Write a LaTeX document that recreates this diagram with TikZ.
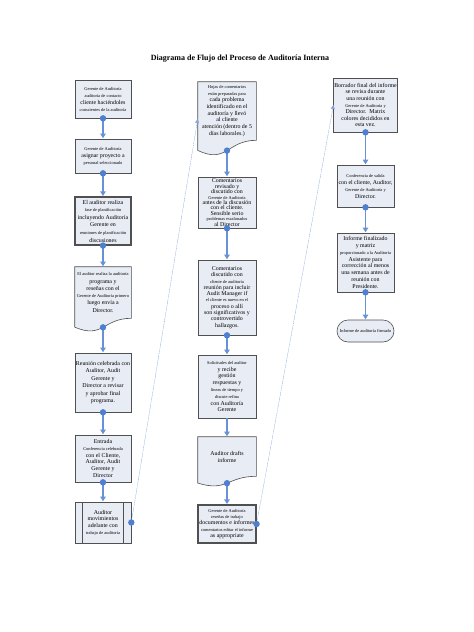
\documentclass[tikz,border=0pt]{standalone}
\usepackage{fontspec}
\setmainfont{Liberation Serif}
\usetikzlibrary{arrows.meta,calc,backgrounds}
\definecolor{boxfill}{HTML}{E8ECF4}
\definecolor{boxgray}{HTML}{505050}
\definecolor{linkblue}{HTML}{4F7FCF}
\newcommand{\sm}[1]{{\fontsize{4.4}{4.8}\selectfont #1}}
% document shape: wavy bottom below the node, #2 = depth of the wave
\newcommand{\docshape}[2]{%
  \begin{pgfonlayer}{background}
    \draw[boxline] (#1.north west) -- (#1.north east) -- (#1.south east)
      .. controls (#1.south) and ($(#1.south)+(0,#2)$) .. ($(#1.south west)+(0,0.42*#2)$) -- cycle;
  \end{pgfonlayer}
  \coordinate (#1-tail) at ($(#1.south)+(0,0.43*#2)$);
}
\begin{document}
\begin{tikzpicture}[x=1pt,y=-1pt,
    boxline/.style={draw=boxgray, fill=boxfill, line width=0.6pt},
    lines/.style={font=\fontsize{5.9}{#1}\selectfont},
    box/.style={boxline, inner sep=0.5pt, align=center, lines=6.7},
    colA/.style={box, minimum width=56pt},
    colB/.style={box, minimum width=58pt},
    colC/.style={box, minimum width=57pt},
    docbox/.style={draw=none, fill=none},
    link/.style={linkblue!85, line width=1.3pt, -{Triangle[width=5.5pt,length=4.5pt]}, shorten >=0.5pt},
    farlink/.style={linkblue!70, line width=0.35pt, dash pattern=on 1.2pt off 0.6pt, -{Triangle[width=4pt,length=4pt]}}]
  \useasboundingbox (0,0) rectangle (474,632);
  \node[font=\bfseries\fontsize{8}{9}\selectfont] (titulo) at (240,59) {Diagrama de Flujo del Proceso de Auditoría Interna};

  % first column
  \node[colA, minimum height=38pt, lines=7] (contacto) at (103,99)
    {\sm{Gerente de Auditoría}\\ \sm{auditoría de contacto}\\ cliente haciéndoles\\ \sm{conscientes de la auditoría}};
  \node[colA, minimum height=34pt, lines=7] (asignar) at (103,156)
    {\sm{Gerente de Auditoría}\\ asignar proyecto a\\ \sm{personal seleccionado}};
  \node[colA, minimum height=48pt, lines=7.6, line width=1.1pt] (planif) at (103,221)
    {El auditor realiza\\ \sm{fase de planificación}\\ incluyendo Auditoría\\ Gerente en\\ \sm{reuniones de planificación}\\ discusiones};
  \node[colA, docbox, minimum height=51pt, lines=7.3] (programa) at (103,292.5)
    {\sm{El auditor realiza la auditoría}\\ programa y\\ reseñas con el\\ \sm{Gerente de Auditoría primero}\\ luego envía a\\ Director.};
  \docshape{programa}{21}
  \node[colA, minimum height=59pt, lines=7.5] (reunion) at (103,382.5)
    {Reunión celebrada con\\ Auditor, Audit\\ Gerente y\\ Director a revisar\\ y aprobar final\\ programa.};
  \node[colA, minimum height=47pt, lines=6.8] (entrada) at (103,458.5)
    {Entrada\\ \sm{Conferencia celebrada}\\ con el Cliente,\\ Auditor, Audit\\ Gerente y\\ Director};
  \node[colA, minimum height=41pt] (trabajo) at (103,522.5)
    {Auditor\\ movimientos\\ adelante con\\ \sm{trabajo de auditoría}};
  \draw[boxline] ($(trabajo.north west)+(8,0)$) -- ($(trabajo.south west)+(8,0)$);
  \draw[boxline] ($(trabajo.north east)+(-8,0)$) -- ($(trabajo.south east)+(-8,0)$);

  % second column
  \node[colB, docbox, minimum height=58pt] (hojas) at (227,111)
    {\sm{Hojas de comentarios}\\ \sm{están preparadas para}\\ cada problema\\ identificado en el\\ auditoría y llevó\\ al cliente\\ atención (dentro de 5\\ días laborales.)};
  \docshape{hojas}{24}
  \node[colB, minimum height=51pt, lines=5.4] (revisado) at (227,202.5)
    {Comentarios\\ revisado y\\ discutido con\\ \sm{Gerente de Auditoría}\\ antes de la discusión\\ con el cliente.\\ Sensible serio\\ \sm{problemas escalonados}\\ al Director};
  \node[colB, minimum height=75pt, lines=6.3] (discutido) at (227,297.5)
    {Comentarios\\ discutido con\\ \sm{cliente de auditoría}\\ reunión para incluir\\ Audit Manager if\\ \sm{el cliente es nuevo en el}\\ proceso o allí\\ son significativos y\\ controvertido\\ hallazgos.};
  \node[colB, minimum height=63pt, lines=6.8] (solicitud) at (227,386.5)
    {\sm{Solicitudes del auditor}\\ y recibe\\ gestión\\ respuestas y\\ \sm{líneas de tiempo y}\\ \sm{discute refina}\\ con Auditoría\\ Gerente};
  \node[colB, docbox, minimum height=39pt, lines=7] (drafts) at (227,456.5)
    {Auditor drafts\\ informe};
  \docshape{drafts}{16}
  \node[colB, minimum height=38pt, lines=6.3, line width=1.1pt] (resenas) at (227,524)
    {\sm{Gerente de Auditoría}\\ \sm{reseñas de trabajo}\\ documentos e informes\\ \sm{comentarios editar el informe}\\ as appropriate};

  % third column
  \node[colC, minimum height=54pt, lines=6.6] (final) at (365.5,105)
    {Borrador final del informe\\ se revisa durante\\ una reunión con\\ \sm{Gerente de Auditoría y}\\ Director.\ \ Matrix\\ colores decididos en\\ esta vez.};
  \node[colC, minimum height=42pt, lines=7] (salida) at (365.5,186)
    {\sm{Conferencia de salida}\\ con el cliente, Auditor,\\ \sm{Gerente de Auditoría y}\\ Director.};
  \node[colC, minimum height=59pt, lines=6.8] (finalizado) at (365.5,262.5)
    {Informe finalizado\\ y matriz\\ \sm{proporcionado a la Auditoría}\\ Asistente para\\ corrección al menos\\ una semana antes de\\ reunión con\\ Presidente.};
  \node[colC, minimum height=22pt, rounded corners=11pt] (firmado) at (365.5,331)
    {\sm{Informe de auditoría firmado}};

  % connectors
  \foreach \a/\b in {contacto.south/asignar, asignar.south/planif, planif.south/programa,
      programa-tail/reunion, reunion.south/entrada, entrada.south/trabajo,
      hojas-tail/revisado, revisado.south/discutido, discutido.south/solicitud,
      drafts-tail/resenas, final.south/salida, salida.south/finalizado, finalizado.south/firmado} {
    \draw[link] (\a) -- (\b.north);
    \fill[linkblue] (\a) circle (3.2pt);
  }
  \draw[link] (solicitud.south) -- (drafts.north);
  \draw[farlink] (trabajo.east) -- ([yshift=-8pt]hojas.west);
  \draw[farlink] (resenas.east) -- (final.west);
  \fill[linkblue] (trabajo.east) circle (3.2pt);
  \fill[linkblue] (resenas.east) circle (3.2pt);
\end{tikzpicture}
\end{document}
